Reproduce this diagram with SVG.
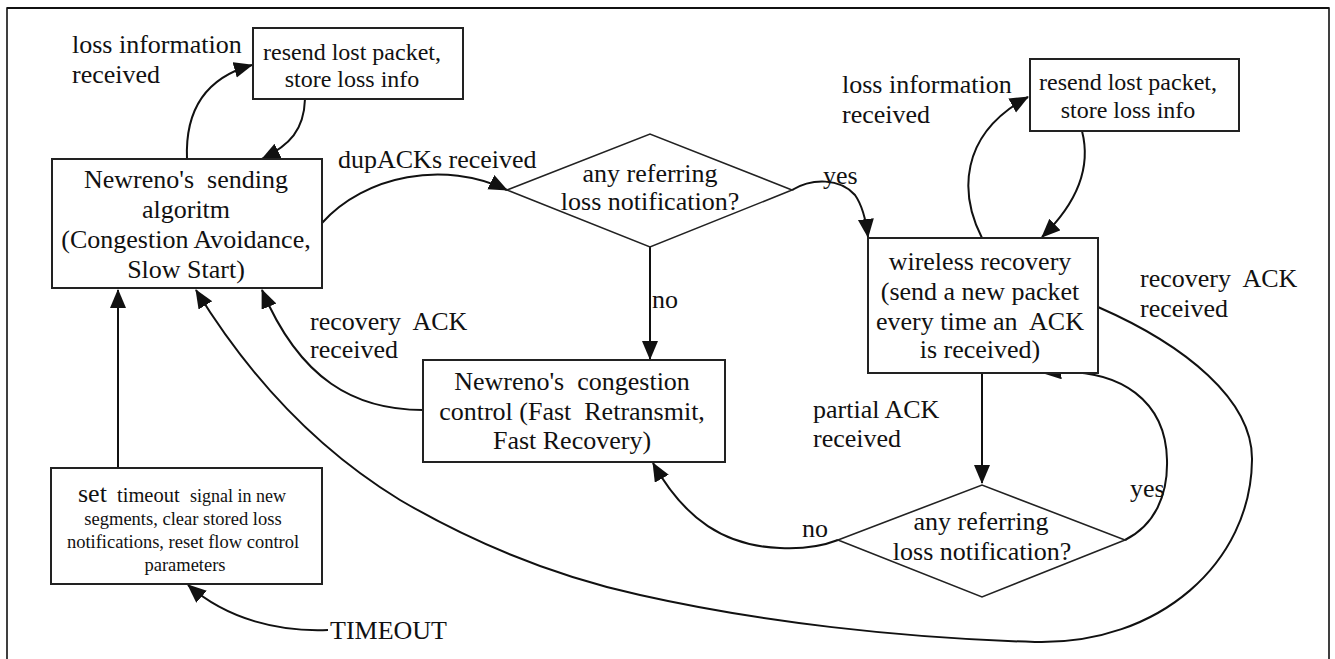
<svg xmlns="http://www.w3.org/2000/svg" width="1335" height="659" viewBox="0 0 1335 659" font-family="'Liberation Serif', 'DejaVu Serif', serif">
<style>
text{font-family:'Liberation Serif','DejaVu Serif',serif;fill:#111;}
.t26{font-size:26px;}
.t24{font-size:24px;}
.mid{text-anchor:middle;}
.pre{white-space:pre;}
.box{fill:#fff;stroke:#222;stroke-width:2;}
.dia{fill:#fff;stroke:#222;stroke-width:1.6;}
.con{fill:none;stroke:#111;stroke-width:2;}
</style>
<defs>
<marker id="ah" markerUnits="userSpaceOnUse" markerWidth="19" markerHeight="17" refX="18" refY="8" orient="auto">
<path d="M0,0 L19,8 L0,16 z" fill="#111"/>
</marker>
</defs>
<rect width="1335" height="659" fill="#fff"/>
<path d="M7,659 L7,8 L1329,8 L1329,659" fill="none" stroke="#111" stroke-width="1.6"/>
<line x1="7" y1="8" x2="1329" y2="8" stroke="#111" stroke-width="2.2"/>

<g id="connectors">
<path class="con" d="M187,159 C185,110 205,78 252,65" marker-end="url(#ah)"/>
<path class="con" d="M305,99 C304,130 290,145 262,159" marker-end="url(#ah)"/>
<path class="con" d="M322,223 C365,175 445,160 507,190" marker-end="url(#ah)"/>
<path class="con" d="M792,190 C812,178 840,178 855,195 C862,205 866,220 868,237" marker-end="url(#ah)"/>
<path class="con" d="M650,247 L650,359" marker-end="url(#ah)"/>
<path class="con" d="M423,410 C355,410 300,380 262,290" marker-end="url(#ah)"/>
<path class="con" d="M1098,307 C1185,345 1253,400 1252,460 C1251,562 1160,645 1035,642 C900,638 760,622 640,595 C540,573 460,535 400,500 C310,445 245,370 196,290" marker-end="url(#ah)"/>
<path class="con" d="M982,238 C960,195 958,135 1028,97" marker-end="url(#ah)"/>
<path class="con" d="M1082,131 C1092,170 1075,205 1042,237" marker-end="url(#ah)"/>
<path class="con" d="M982,373 L982,483" marker-end="url(#ah)"/>
<path class="con" d="M1125,540 C1155,525 1168,495 1167,460 C1166,405 1125,365 1043,373" marker-end="url(#ah)"/>
<path class="con" d="M838,540 C820,547 800,549 780,548 C725,546 685,520 653,463" marker-end="url(#ah)"/>
<path class="con" d="M118,468 L118,290" marker-end="url(#ah)"/>
<path class="con" d="M328,630 C280,632 228,620 188,585" marker-end="url(#ah)"/>
</g>

<g id="labels">
<text class="t26" x="72" y="53">loss information</text>
<text class="t26" x="72" y="83">received</text>
<text class="t26" x="338" y="168">dupACKs received</text>
<text class="t26" x="823" y="184">yes</text>
<text class="t26" x="652" y="308">no</text>
<text class="t26 pre" x="310" y="330">recovery  ACK</text>
<text class="t26" x="310" y="358">received</text>
<text class="t26" x="842" y="93">loss information</text>
<text class="t26" x="842" y="123">received</text>
<text class="t26 pre" x="1140" y="287">recovery  ACK</text>
<text class="t26" x="1140" y="317">received</text>
<text class="t26" x="813" y="418">partial ACK</text>
<text class="t26" x="813" y="447">received</text>
<text class="t26" x="1130" y="497">yes</text>
<text class="t26" x="802" y="537">no</text>
<text class="t26" x="330" y="639">TIMEOUT</text>
</g>

<g id="resend1">
<rect class="box" x="253" y="28" width="210" height="71"/>
<text class="t24 mid" x="352" y="60">resend lost packet,</text>
<text class="t24 mid" x="352" y="87">store loss info</text>
</g>

<g id="sending">
<rect class="box" x="52" y="159" width="270" height="129"/>
<text class="t26 mid pre" x="186" y="188">Newreno's  sending</text>
<text class="t26 mid" x="186" y="218">algoritm</text>
<text class="t26 mid" x="186" y="248">(Congestion Avoidance,</text>
<text class="t26 mid" x="186" y="278">Slow Start)</text>
</g>

<g id="decision1">
<polygon class="dia" points="507,190 650,134 792,190 650,247"/>
<text class="t26 mid" x="650" y="182">any referring</text>
<text class="t26 mid" x="650" y="210">loss notification?</text>
</g>

<g id="congestion">
<rect class="box" x="423" y="360" width="302" height="102"/>
<text class="t26 mid pre" x="572" y="390">Newreno's  congestion</text>
<text class="t26 mid pre" x="572" y="420">control (Fast  Retransmit,</text>
<text class="t26 mid" x="572" y="449">Fast Recovery)</text>
</g>

<g id="resend2">
<rect class="box" x="1030" y="59" width="209" height="72"/>
<text class="t24 mid" x="1128" y="90">resend lost packet,</text>
<text class="t24 mid" x="1128" y="118">store loss info</text>
</g>

<g id="wireless">
<rect class="box" x="868" y="238" width="230" height="135"/>
<text class="t26 mid" x="980" y="270">wireless recovery</text>
<text class="t26 mid" x="980" y="300">(send a new packet</text>
<text class="t26 mid pre" x="980" y="330">every time an  ACK</text>
<text class="t26 mid" x="980" y="358">is received)</text>
</g>

<g id="decision2">
<polygon class="dia" points="838,540 982,485 1125,540 982,597"/>
<text class="t26 mid" x="981" y="530">any referring</text>
<text class="t26 mid" x="982" y="560">loss notification?</text>
</g>

<g id="timeoutbox">
<rect class="box" x="51" y="468" width="271" height="116"/>
<text y="502"><tspan x="78" style="font-size:26px">set</tspan><tspan x="117" style="font-size:20.5px">timeout</tspan><tspan x="190" style="font-size:18px">signal in new</tspan></text>
<text class="mid" x="183" y="525" style="font-size:18.5px">segments, clear stored loss</text>
<text class="mid" x="183" y="548" style="font-size:18.5px">notifications, reset flow control</text>
<text class="mid" x="185" y="571" style="font-size:18.5px">parameters</text>
</g>
</svg>
